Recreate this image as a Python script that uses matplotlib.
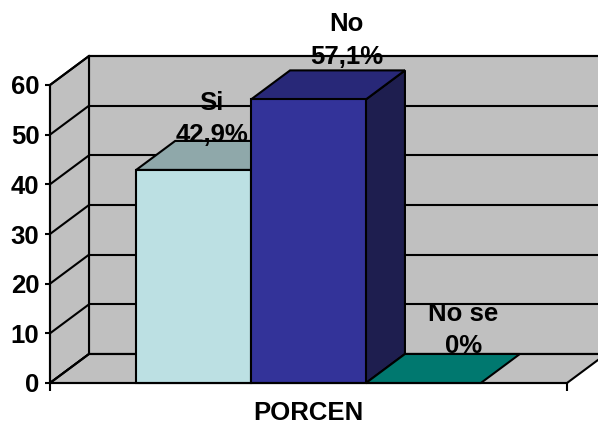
import numpy as np
import matplotlib
matplotlib.use("Agg")
import matplotlib.pyplot as plt
from matplotlib.patches import Polygon, Rectangle

plt.rcParams['font.family'] = ['Liberation Sans', 'DejaVu Sans']
plt.rcParams['font.weight'] = 'bold'

# data
category = ["PORCEN"]
series = ["Si", "No", "No se"]
values = [42.9, 57.1, 0.0]
value_labels = ["42,9%", "57,1%", "0%"]
y_ticks = [0, 10, 20, 30, 40, 50, 60]

# styling
front_colors = ["#BCE0E3", "#333399", "#008078"]
top_colors = ["#8FA8AA", "#282878", "#00786F"]
side_colors = ["#6E8C8E", "#1E1E4F", "#005550"]
wall_color = "#C0C0C0"
label_offsets_px = [(18, 51), (38, 59), (40, 53)]
depth_px = (39, 29)
FS = 18.5
LW = 1.5

fig = plt.figure(figsize=(5.98, 4.25), dpi=100)
W, H = 598, 425
ax = fig.add_axes([50 / W, (H - 383) / H, 517 / W, 298 / H])
ax.set_xlim(0, 1)
ax.set_ylim(0, 60)
ax.patch.set_visible(False)

# depth offset expressed in data units
p0 = ax.transData.transform((0, 0))
ddx, ddy = ax.transData.inverted().transform(p0 + np.array(depth_px))

ymax = y_ticks[-1]

# back wall
ax.add_patch(Rectangle((ddx, ddy), 1, ymax, fc=wall_color, ec='black', lw=LW,
                       zorder=1, clip_on=False))
# left side wall
ax.add_patch(Polygon([(0, 0), (ddx, ddy), (ddx, ymax + ddy), (0, ymax)],
                     closed=True, fc=wall_color, ec='black', lw=LW,
                     zorder=1, clip_on=False))
# floor
ax.add_patch(Polygon([(0, 0), (1, 0), (1 + ddx, ddy), (ddx, ddy)],
                     closed=True, fc=wall_color, ec='black', lw=LW,
                     zorder=1, clip_on=False))

# gridlines on back and side walls
for t in y_ticks:
    ax.plot([ddx, 1 + ddx], [t + ddy, t + ddy], color='black', lw=LW,
            zorder=2, clip_on=False, solid_capstyle='butt')
    ax.plot([0, ddx], [t, t + ddy], color='black', lw=LW, zorder=2,
            clip_on=False)

# clustered 3D columns
n = len(series)
gap = 1.5
w = 1.0 / (n + gap)
start = 0.5 - n * w / 2
for i, (name, v) in enumerate(zip(series, values)):
    x0 = start + i * w
    x1 = x0 + w
    if v > 0:
        ax.add_patch(Polygon([(x1, 0), (x1 + ddx, ddy), (x1 + ddx, v + ddy), (x1, v)],
                             closed=True, fc=side_colors[i], ec='black', lw=LW,
                             zorder=3 + i, clip_on=False))
    ax.add_patch(Polygon([(x0, v), (x1, v), (x1 + ddx, v + ddy), (x0 + ddx, v + ddy)],
                         closed=True, fc=top_colors[i], ec='black', lw=LW,
                         zorder=3 + i, clip_on=False))
    if v > 0:
        ax.add_patch(Rectangle((x0, 0), w, v, fc=front_colors[i], ec='black',
                               lw=LW, zorder=3 + i, clip_on=False))
    ox, oy = label_offsets_px[i]
    ax.annotate(f"{name}\n{value_labels[i]}", xy=((x0 + x1) / 2, v),
                xytext=(ox * 72 / 100, oy * 72 / 100), textcoords='offset points',
                ha='center', va='center', multialignment='center',
                fontsize=FS, fontweight='bold', linespacing=1.45, zorder=20,
                annotation_clip=False)

# axes
for s in ['top', 'right']:
    ax.spines[s].set_visible(False)
for s in ['left', 'bottom']:
    ax.spines[s].set_linewidth(LW)
    ax.spines[s].set_zorder(15)

ax.set_yticks(y_ticks)
ax.set_yticklabels([str(t) for t in y_ticks], fontsize=FS, fontweight='bold')
ax.tick_params(axis='y', direction='out', length=3.6, width=LW, pad=4)

ax.set_xticks([0.5])
ax.set_xticklabels(category, fontsize=FS, fontweight='bold')
ax.set_xticks([0, 1], minor=True)
ax.tick_params(axis='x', which='major', length=0, pad=13)
ax.tick_params(axis='x', which='minor', direction='out', length=5.8, width=LW)

fig.savefig("out.png", dpi=100)
